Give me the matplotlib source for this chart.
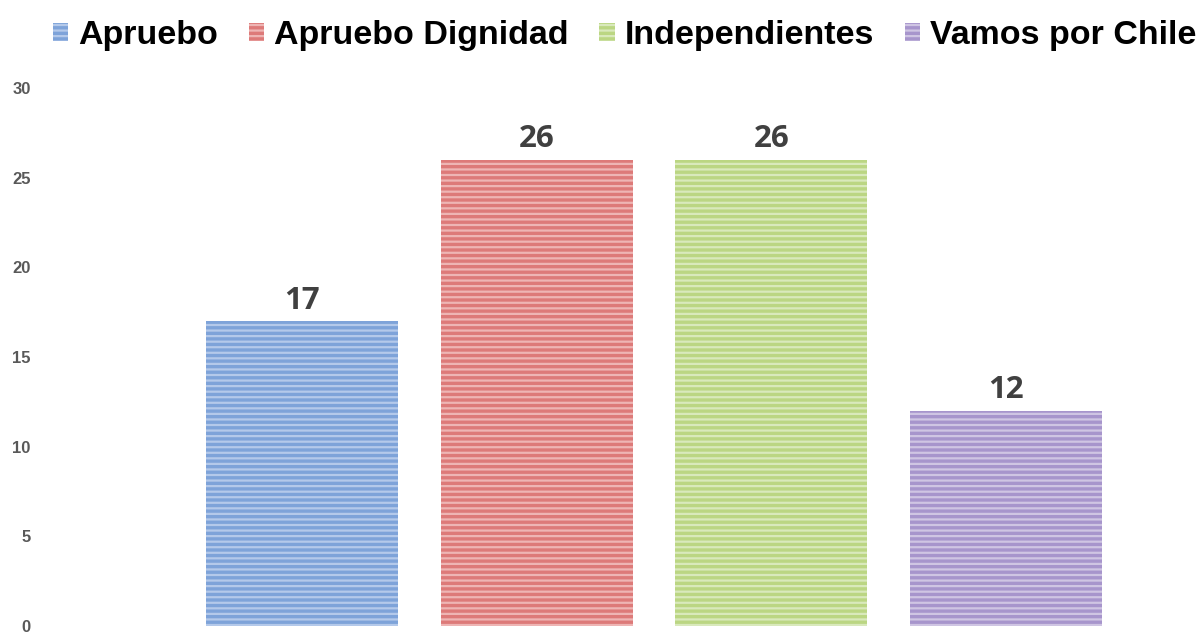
import numpy as np
import matplotlib.pyplot as plt

# data
partidos = ['Apruebo', 'Apruebo Dignidad', 'Independientes', 'Vamos por Chile']
escanos = [17, 26, 26, 12]
colores = ['#7ea3d9', '#dd7a79', '#bbd683', '#a795cc']
rayas = ['#b4c9ea', '#eeb5b4', '#d9e9bc', '#cfc5e3']
yticks = [0, 5, 10, 15, 20, 25, 30]

plt.rcParams['hatch.linewidth'] = 1.6

fig = plt.figure(figsize=(11.99, 6.33), dpi=100)
ax = fig.add_axes([0.035, 0.011, 0.955, 0.85])

x = np.arange(len(partidos))
for i in range(len(partidos)):
    ax.bar(x[i], escanos[i], width=0.818, color=colores[i], edgecolor=rayas[i],
           linewidth=0, hatch='---', label=partidos[i])
    ax.annotate(str(escanos[i]), (x[i], escanos[i]), xytext=(0, 4), textcoords='offset points',
                ha='center', va='bottom', fontsize=22.5, fontweight='bold',
                color='#404040', family='Open Sans')

ax.set_xlim(-1.108, 3.771)
ax.set_ylim(0, 30)
ax.set_yticks(yticks)
ax.set_xticks([])
ax.tick_params(axis='y', length=0, pad=8, labelsize=12, labelcolor='#595959')
for lbl in ax.get_yticklabels():
    lbl.set_fontweight('bold')
    lbl.set_family('Liberation Sans')
for s in ax.spines.values():
    s.set_visible(False)

fig.legend(loc='upper center', bbox_to_anchor=(0.521, 1.017), ncol=4, frameon=False,
           prop={'family': 'Liberation Sans', 'weight': 'bold', 'size': 24.5},
           handlelength=0.45, handleheight=0.45, handletextpad=0.3, columnspacing=0.9)

fig.savefig('out.png', dpi=100)
